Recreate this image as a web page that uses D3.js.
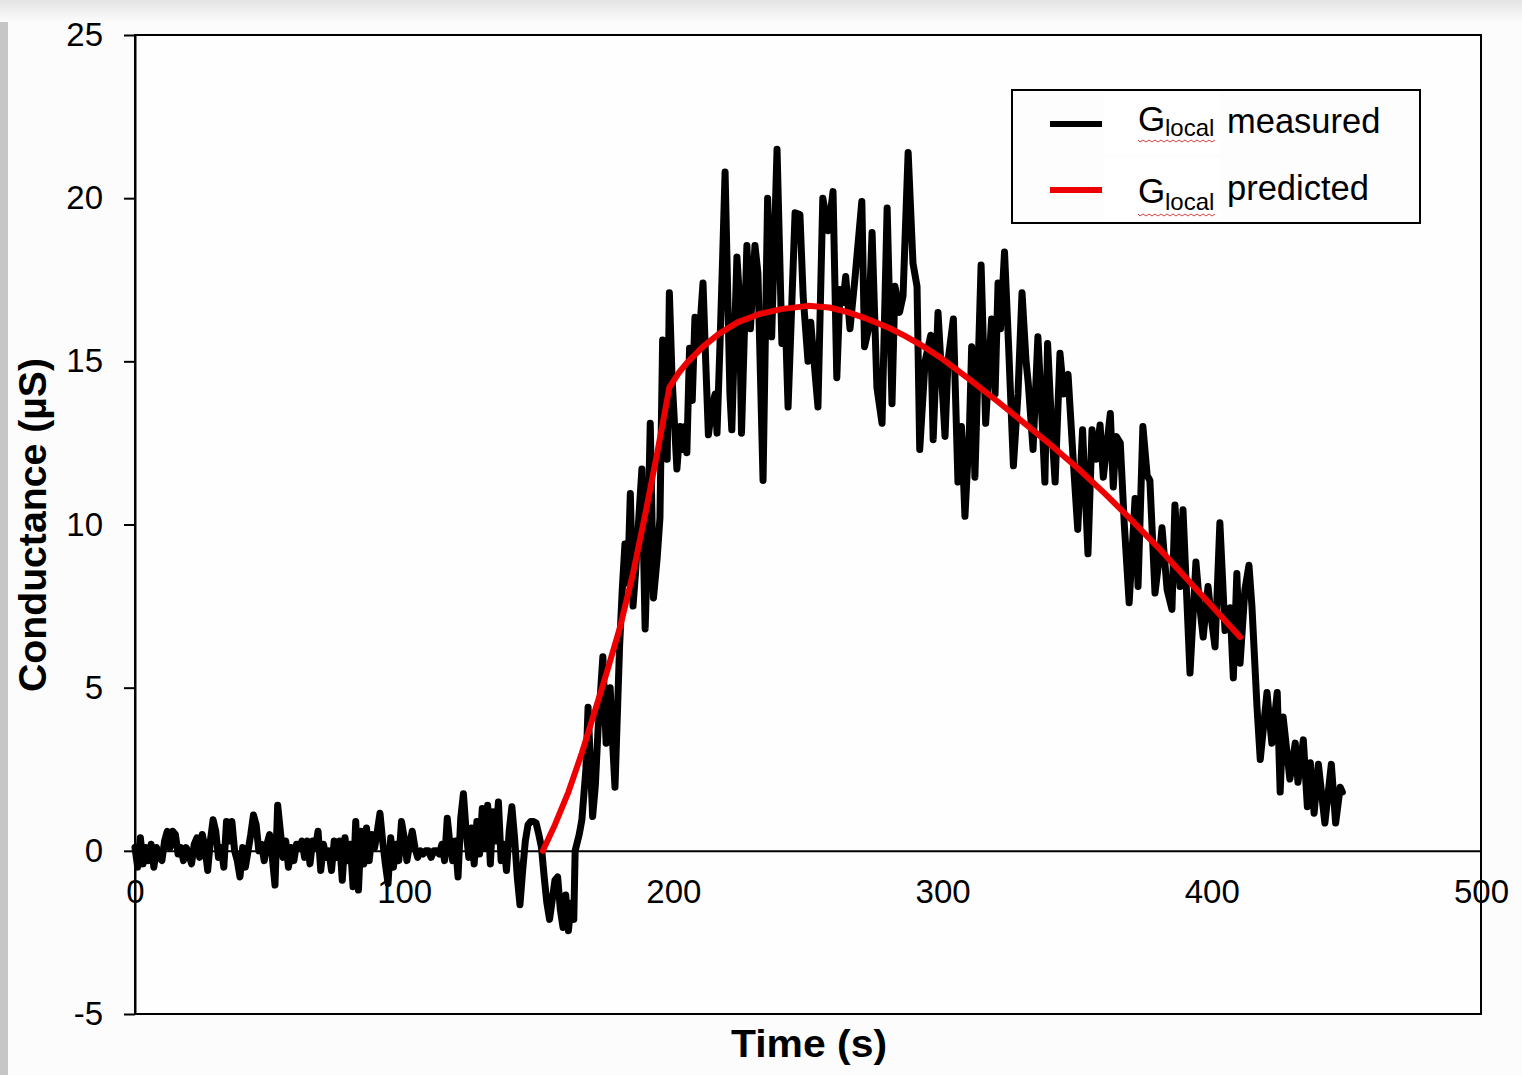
<!DOCTYPE html>
<html>
<head>
<meta charset="utf-8">
<script src="https://cdn.jsdelivr.net/npm/d3@7"></script>
<style>
  body { margin: 0; background: #fbfbfb; }
  svg { display: block; font-family: Arial, "Liberation Sans", sans-serif; }
</style>
</head>
<body>
<div id="chart"></div>
<script>
const xTicks = [0, 100, 200, 300, 400, 500];
const yTicks = [-5, 0, 5, 10, 15, 20, 25];

// G_local measured [time (s), conductance (µS)]
const measured = [
  [0,0.1],[1,-0.5],[2,0.4],[3,-0.4],[4,0.1],[5,-0.3],[6,0.2],[7,-0.5],[8,0.1],[9,-0.2],
  [10,-0.3],[11,0.3],[12,0.6],[13,0.1],[14,0.6],[15,0.5],[16,-0.1],[17,0.1],[18,-0.3],[19,0.1],
  [20,-0.1],[21,-0.4],[22,0.2],[23,0.4],[24,-0.2],[25,0.5],[26,0.1],[27,-0.6],[28,0.3],[29,0.95],
  [30,0.6],[31,-0.2],[32,0.1],[33,-0.5],[34,0.9],[35,0.3],[36,0.9],[37,0.0],[38,-0.3],[39,-0.8],
  [40,0.1],[41,-0.5],[42,0.0],[43,0.5],[44,1.1],[45,0.8],[46,0.0],[47,0.2],[48,-0.3],[49,0.2],
  [50,0.5],[51,-0.2],[52,-1.05],[53,1.4],[54,0.6],[55,-0.2],[56,0.3],[57,-0.5],[58,0.1],[59,-0.3],
  [60,0.2],[61,0.1],[62,0.3],[63,-0.2],[64,0.3],[65,-0.4],[66,0.3],[67,0.1],[68,0.6],[69,-0.6],
  [70,0.2],[71,-0.2],[72,0.0],[73,-0.6],[74,0.3],[75,-0.2],[76,0.3],[77,-0.9],[78,0.4],[79,-0.3],
  [80,0.2],[81,-1.1],[82,0.9],[83,-1.2],[84,0.6],[85,-0.4],[86,0.7],[87,-0.3],[88,0.5],[89,0.1],
  [90,0.6],[91,1.15],[92,0.3],[93,-0.4],[94,-1.0],[95,0.4],[96,-0.5],[97,0.2],[98,-0.3],[99,0.9],
  [100,0.4],[101,-0.3],[102,0.2],[103,0.6],[104,0.1],[105,-0.2],[106,0.0],[107,-0.1],[108,0.0],[109,0.0],
  [110,-0.2],[111,0.0],[112,0.0],[113,-0.1],[114,0.2],[115,-0.3],[116,1.0],[117,0.2],[118,-0.3],[119,0.3],
  [120,-0.8],[121,1.0],[122,1.75],[123,0.6],[124,-0.2],[125,0.7],[126,-0.4],[127,0.9],[128,-0.1],[129,1.3],
  [130,0.1],[131,1.4],[132,-0.4],[133,1.2],[134,0.3],[135,1.5],[136,-0.3],[137,0.2],[138,-0.6],[139,0.6],
  [140,1.35],[141,0.4],[142,-0.8],[143,-1.65],[144,-0.6],[145,0.3],[146,0.8],[147,0.9],[148,0.9],[149,0.85],
  [150,0.5],[151,0.1],[152,-0.8],[153,-1.6],[154,-2.1],[155,-1.5],[156,-0.9],[157,-0.8],[158,-1.8],[159,-2.35],
  [160,-1.35],[161,-2.45],[162,-1.6],[163,-2.1],[163.5,0.0],[165,0.5],[166,0.95],[167.5,2.5],[168.3,4.4],[169,3.0],
  [170,1.05],[171,2.0],[172,3.7],[173.8,5.95],[175,3.3],[176.5,5.0],[177.3,3.5],[178.3,1.95],[180,6.25],[181,8.0],
  [182,9.4],[183,8.2],[184,10.95],[185,7.5],[186,8.6],[187,10.0],[188.3,11.7],[189.5,6.8],[190.5,9.5],[191.4,13.1],
  [192.6,7.75],[194,9.0],[195,10.2],[196,15.65],[197,12.5],[197.7,12.0],[198.5,17.1],[199.5,14.5],[201.3,11.7],[202.5,13.0],
  [203.5,12.3],[204.3,13.0],[205,12.2],[206,15.4],[207,13.8],[208,16.35],[209.4,15.5],[211,17.4],[212,15.0],[213,12.75],
  [214.3,13.6],[215.5,14.0],[216.2,12.8],[217.3,15.5],[218.3,18.2],[219.2,20.8],[220.2,17.0],[221,14.0],[221.7,12.9],[222.8,16.0],
  [223.6,18.2],[224.5,17.0],[225.3,12.8],[227.3,18.55],[228.6,16.0],[230.3,18.55],[231.4,17.7],[233.3,11.35],[235,20.0],[236.5,15.75],
  [238.5,21.5],[240.3,15.55],[241.5,16.5],[242.6,13.6],[245.2,19.55],[247,19.5],[248.2,17.0],[250,15.0],[251,16.2],[253.7,13.6],
  [255.5,20.0],[257.5,19.0],[259.3,20.2],[260.7,14.5],[261.9,17.2],[263,16.8],[264,17.6],[265.6,16.0],[267.4,17.5],[270,19.9],
  [271,15.45],[272.5,16.0],[273.8,18.95],[275.6,14.2],[277.5,13.1],[279.4,19.7],[281.2,13.7],[282.3,17.3],[284,16.5],[285.3,17.0],
  [287.2,21.4],[289,18.0],[290.5,17.3],[291.5,12.3],[293.5,15.0],[295.6,15.8],[296.5,12.6],[298.3,16.5],[300,14.0],[300.9,12.7],
  [302,15.0],[304,16.3],[305.7,11.3],[307,13.0],[308.3,10.25],[310,13.0],[310.8,15.45],[312,11.45],[314.3,17.95],[316,13.1],
  [318.2,16.3],[319.5,14.0],[320.6,17.4],[321.5,16.0],[323,18.35],[324.5,15.5],[326.3,11.8],[328,14.0],[329.5,17.1],[331,15.0],
  [331.8,14.35],[333.6,12.3],[335.4,15.75],[336.5,14.0],[338,11.3],[339,15.55],[340.5,13.0],[341.8,11.3],[343.6,15.25],[345,14.0],
  [346.6,14.6],[348.5,12.0],[350.2,9.85],[352,12.9],[354,9.1],[355.5,12.9],[357,12.0],[358.5,13.05],[359.7,11.45],[362.3,13.4],
  [363.4,11.15],[364.5,12.7],[366,12.5],[367.5,10.0],[369.3,7.6],[371.5,10.8],[372.6,8.1],[374.4,13.0],[376,11.5],[377,11.35],
  [378.9,7.9],[380.5,9.0],[381.5,9.9],[383.4,8.0],[385.2,7.4],[386.3,10.6],[388.2,8.1],[389.3,10.45],[391.9,5.45],[394.1,8.85],
  [395.5,7.5],[396.8,6.55],[398.6,8.1],[400,7.0],[401.2,6.25],[403,10.05],[404.9,6.75],[406.8,7.45],[408,5.3],[409.3,8.5],
  [410.5,5.75],[412.3,8.0],[413.8,8.75],[414.9,7.5],[416.8,4.4],[418,2.8],[420.5,4.85],[422.3,3.3],[424.3,4.85],[425.4,1.8],
  [426.5,4.1],[429,2.2],[431,3.3],[432,2.1],[434,3.4],[435.5,1.35],[436.6,2.7],[438,1.15],[439.6,2.65],[442,0.85],
  [444.4,2.65],[446,0.85],[447.7,1.95],[448.5,1.8]
];

// G_local predicted [time (s), conductance (µS)]
const predicted = [
  [151.5,0],[156,0.8],[161,1.8],[166,3.0],[170.5,4.2],[175,5.4],[180,6.8],[185,8.5],[190,10.5],[194,12.2],
  [198.5,14.2],[202,14.65],[205,14.95],[211,15.45],[217,15.85],[224,16.2],[232,16.45],[240,16.6],[250,16.7],[258,16.65],
  [265,16.5],[272,16.3],[280,16.03],[286,15.78],[292,15.5],[300,15.07],[310,14.45],[320,13.8],[330,13.13],[340,12.45],
  [350,11.74],[360,10.97],[370,10.15],[380,9.3],[390,8.4],[400,7.5],[410.5,6.55]
];

const legendItems = [
  { label: "measured", color: "#000000" },
  { label: "predicted", color: "#ee0000" }
];

const W = 1522, H = 1075;
const x = d3.scaleLinear().domain([0, 500]).range([135, 1481]);
const y = d3.scaleLinear().domain([-5, 25]).range([1014, 35]);

const svg = d3.select("#chart").append("svg")
  .attr("width", W)
  .attr("height", H);

// slide-like backdrop: soft top shading and grey strip on the left
const defs = svg.append("defs");
const topGrad = defs.append("linearGradient").attr("id", "topShade")
  .attr("x1", 0).attr("y1", 0).attr("x2", 0).attr("y2", 1);
topGrad.append("stop").attr("offset", "0%").attr("stop-color", "#e4e4e4");
topGrad.append("stop").attr("offset", "100%").attr("stop-color", "#fbfbfb");
svg.append("rect").attr("width", W).attr("height", H).attr("fill", "#fcfcfc");
svg.append("rect").attr("width", W).attr("height", 22).attr("fill", "url(#topShade)");
svg.append("rect").attr("x", 0).attr("y", 22).attr("width", 8).attr("height", H - 22).attr("fill", "#c6c6c6");

// plot frame
svg.append("rect")
  .attr("x", x(0)).attr("y", y(25))
  .attr("width", x(500) - x(0)).attr("height", y(-5) - y(25))
  .attr("fill", "#fefefe")
  .attr("stroke", "#000").attr("stroke-width", 2);

// axes
const yAxis = svg.append("g")
  .attr("transform", `translate(${x(0)},0)`)
  .call(d3.axisLeft(y).tickValues(yTicks).tickFormat(d => String(d))
    .tickSize(11).tickPadding(21).tickSizeOuter(0));
yAxis.select(".domain").attr("stroke-width", 2);
yAxis.selectAll(".tick line").attr("stroke-width", 2);
yAxis.selectAll(".tick text")
  .attr("font-size", 33).attr("fill", "#000")
  .attr("font-family", "Arial, 'Liberation Sans', sans-serif");

const xAxis = svg.append("g")
  .attr("transform", `translate(0,${y(0)})`)
  .call(d3.axisBottom(x).tickValues(xTicks).tickFormat(d => String(d))
    .tickSize(0).tickPadding(29).tickSizeOuter(0));
xAxis.select(".domain").attr("stroke-width", 2);
xAxis.selectAll(".tick text")
  .attr("font-size", 33).attr("fill", "#000")
  .attr("font-family", "Arial, 'Liberation Sans', sans-serif");

// series
const line = d3.line().x(d => x(d[0])).y(d => y(d[1]));

svg.append("path")
  .datum(measured)
  .attr("d", line)
  .attr("fill", "none")
  .attr("stroke", legendItems[0].color)
  .attr("stroke-width", 7)
  .attr("stroke-linejoin", "round")
  .attr("stroke-linecap", "round");

svg.append("path")
  .datum(predicted)
  .attr("d", line)
  .attr("fill", "none")
  .attr("stroke", legendItems[1].color)
  .attr("stroke-width", 6)
  .attr("stroke-linejoin", "round")
  .attr("stroke-linecap", "round");

// axis titles
svg.append("text")
  .attr("x", 809).attr("y", 1057)
  .attr("text-anchor", "middle")
  .attr("font-size", 39).attr("font-weight", "bold")
  .attr("textLength", 156).attr("lengthAdjust", "spacingAndGlyphs")
  .text("Time (s)");

svg.append("text")
  .attr("transform", "translate(46,525) rotate(-90)")
  .attr("text-anchor", "middle")
  .attr("font-size", 38).attr("font-weight", "bold")
  .attr("textLength", 334).attr("lengthAdjust", "spacingAndGlyphs")
  .text("Conductance (µS)");

// legend
const legend = svg.append("g");
legend.append("rect")
  .attr("x", 1012).attr("y", 90).attr("width", 408).attr("height", 133)
  .attr("fill", "#fdfdfd").attr("stroke", "#000").attr("stroke-width", 2);

const rows = [
  { lineY: 124, gBase: 131, subBase: 136, wordBase: 133 },
  { lineY: 190, gBase: 203, subBase: 210, wordBase: 200 }
];

legendItems.forEach((item, i) => {
  const r = rows[i];
  legend.append("line")
    .attr("x1", 1050).attr("x2", 1102)
    .attr("y1", r.lineY).attr("y2", r.lineY)
    .attr("stroke", item.color).attr("stroke-width", 6);
  legend.append("rect")
    .attr("x", 1104).attr("y", r.lineY - 32).attr("width", 116).attr("height", 62)
    .attr("fill", "#ffffff");
  legend.append("text")
    .attr("x", 1138).attr("y", r.gBase)
    .attr("font-size", 35).text("G");
  legend.append("text")
    .attr("x", 1165).attr("y", r.subBase)
    .attr("font-size", 24).text("local");
  legend.append("text")
    .attr("x", 1227).attr("y", r.wordBase)
    .attr("font-size", 34.5).text(item.label);
  // spell-check squiggle under "Glocal"
  const sq = d3.path();
  const sy = r.subBase + 4;
  sq.moveTo(1138, sy);
  for (let k = 0; k < 26; k++) {
    sq.lineTo(1140 + k * 3, sy + (k % 2 ? 0 : 2));
  }
  legend.append("path")
    .attr("d", sq.toString())
    .attr("fill", "none").attr("stroke", "#d84040").attr("stroke-width", 1);
});
</script>
</body>
</html>
